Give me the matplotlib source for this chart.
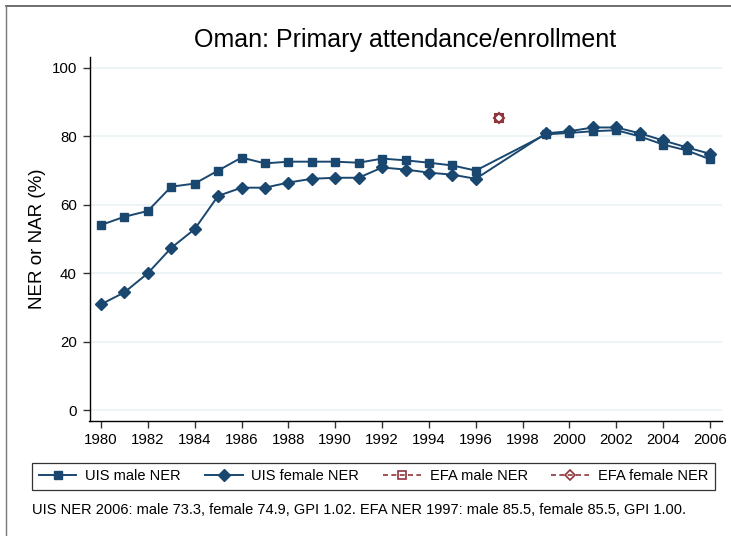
import matplotlib
matplotlib.use("Agg")
import matplotlib.pyplot as plt
from matplotlib.lines import Line2D

plt.rcParams['font.family'] = ['Liberation Sans', 'DejaVu Sans']

years_a = [1980, 1981, 1982, 1983, 1984, 1985, 1986, 1987, 1988, 1989, 1990,
           1991, 1992, 1993, 1994, 1995, 1996]
years_b = [1999, 2000, 2001, 2002, 2003, 2004, 2005, 2006]
uis_male = [54.1, 56.5, 58.2, 65.3, 66.2, 70.0, 73.8, 72.1, 72.6, 72.6, 72.6,
            72.3, 73.5, 73.0, 72.3, 71.5, 70.0,
            80.6, 81.0, 81.5, 81.8, 80.0, 77.6, 75.9, 73.3]
uis_female = [30.9, 34.4, 40.0, 47.4, 52.9, 62.6, 65.0, 65.0, 66.5, 67.6, 67.9,
              67.9, 70.9, 70.3, 69.4, 68.8, 67.6,
              80.9, 81.5, 82.6, 82.6, 80.9, 78.8, 76.8, 74.9]
efa_years = [1997]
efa_male = [85.5]
efa_female = [85.5]
xticks = list(range(1980, 2007, 2))
yticks = [0, 20, 40, 60, 80, 100]

navy = '#1a476f'
maroon = '#90353b'
W, H = 731, 536
fig = plt.figure(figsize=(W / 100, H / 100), dpi=100)
ax = fig.add_axes([89.5 / W, 1 - 421 / H, (722 - 89.5) / W, (421 - 57) / H])

years = years_a + years_b
ax.plot(years, uis_male, color=navy, lw=1.4, marker='s', ms=6.3, zorder=3)
ax.plot(years, uis_female, color=navy, lw=1.4, marker='D', ms=6.3, zorder=3)
ax.plot(efa_years, efa_male, color=maroon, lw=1.2, ls=(0, (4, 3)), marker='s', ms=5.5,
        mfc='none', mew=1.5, zorder=4)
ax.plot(efa_years, efa_female, color=maroon, lw=1.2, ls=(0, (4, 3)), marker='D', ms=5.5,
        mfc='none', mew=1.5, zorder=4)

ax.set_xlim(1979.51, 2006.51)
ax.set_ylim(-3.2, 103.2)
ax.set_xticks(xticks)
ax.set_yticks(yticks)
ax.grid(axis='y', color='#eaf2f3', lw=1.2)
ax.set_axisbelow(True)
for s in ['top', 'right']:
    ax.spines[s].set_visible(False)
ax.spines['left'].set_linewidth(1.0)
ax.spines['bottom'].set_linewidth(1.0)
ax.tick_params(axis='both', labelsize=10.8, length=5, width=1, color='#333333', pad=4)
ax.set_ylabel('NER or NAR (%)', fontsize=13.5)
ax.yaxis.set_label_coords((46 - 89.5) / (722 - 89.5), 0.5)
fig.text(405 / W, 1 - 40 / H, 'Oman: Primary attendance/enrollment', fontsize=18,
         ha='center', va='center')

handles = [
    Line2D([], [], color=navy, lw=1.4, marker='s', ms=6.3),
    Line2D([], [], color=navy, lw=1.4, marker='D', ms=6.3),
    Line2D([], [], color=maroon, lw=1.2, ls=(0, (3, 2)), marker='s', ms=5.5, mfc='none', mew=1.2),
    Line2D([], [], color=maroon, lw=1.2, ls=(0, (3, 2)), marker='D', ms=5.5, mfc='none', mew=1.2),
]
labels = ['UIS male NER', 'UIS female NER', 'EFA male NER', 'EFA female NER']
leg = fig.legend(handles, labels, loc='lower left', ncol=4, mode='expand',
                 bbox_to_anchor=(32 / W, 1 - 490 / H, (715 - 32) / W, 31 / H),
                 fontsize=10.5, frameon=True, fancybox=False, borderaxespad=0,
                 handlelength=2.6, handletextpad=0.6, borderpad=0.45, columnspacing=1.0)
leg.get_frame().set_edgecolor('black')
leg.get_frame().set_linewidth(0.9)

fig.text(32 / W, 1 - 510 / H,
         'UIS NER 2006: male 73.3, female 74.9, GPI 1.02. EFA NER 1997: male 85.5, female 85.5, GPI 1.00.',
         fontsize=10.5, ha='left', va='center')

# partial outer frame
fig.add_artist(Line2D([6 / W, 1], [1 - 6 / H, 1 - 6 / H], color='#555555', lw=1.2))
fig.add_artist(Line2D([6 / W, 6 / W], [0, 1 - 6 / H], color='#777777', lw=1.0))

fig.savefig('out.png', dpi=100)
